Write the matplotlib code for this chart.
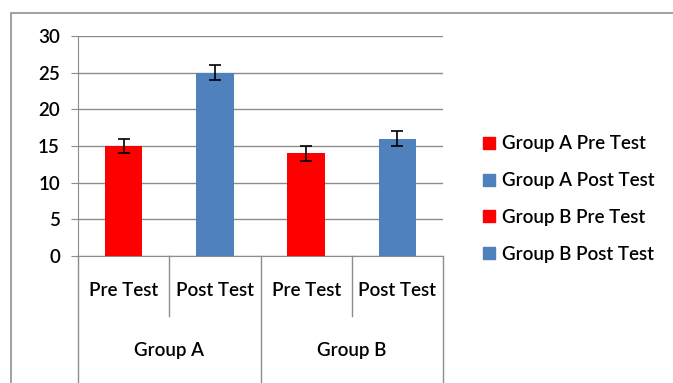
import matplotlib.pyplot as plt
from matplotlib.patches import Rectangle
from matplotlib.lines import Line2D

plt.rcParams['font.family'] = ['Lato', 'DejaVu Sans']
plt.rcParams['font.weight'] = 'semibold'

# data
groups = ["Group A", "Group B"]
tests = ["Pre Test", "Post Test", "Pre Test", "Post Test"]
series = ["Group A Pre Test", "Group A Post Test", "Group B Pre Test", "Group B Post Test"]
values = [15, 25, 14, 16]
errors = [1, 1, 1, 1]
colors = ["#FF0000", "#4F81BD", "#FF0000", "#4F81BD"]

grid_col = "#8C8C8C"
fs = 13.5

fig = plt.figure(figsize=(6.73, 3.83), dpi=100)
ax = fig.add_axes([78 / 673, 1 - 256 / 383, 365 / 673, 220 / 383])

x = list(range(len(values)))
for i in x:
    ax.bar(i, values[i], width=0.41, color=colors[i], label=series[i], zorder=3)
    ax.errorbar(i, values[i], yerr=errors[i], color="black", capsize=4,
                elinewidth=1.2, capthick=1.2, zorder=4)

ax.set_xlim(-0.5, 3.5)
ax.set_ylim(0, 30)
ax.set_yticks(range(0, 31, 5))
ax.yaxis.grid(True, color=grid_col, lw=1)
ax.set_axisbelow(True)
for s in ["top", "right"]:
    ax.spines[s].set_visible(False)
ax.spines["left"].set_color(grid_col)
ax.spines["bottom"].set_color(grid_col)
ax.tick_params(axis="y", colors=grid_col, length=5, labelsize=fs, pad=8)
for lbl in ax.get_yticklabels():
    lbl.set_color("black")
ax.set_xticks([])

# category axis: separators and two-level labels
for xv in [-0.5, 1.5, 3.5]:
    ax.axvline(xv, ymin=-0.6, ymax=0, color=grid_col, lw=1, clip_on=False)
for xv in [0.5, 2.5]:
    ax.axvline(xv, ymin=-0.273, ymax=0, color=grid_col, lw=1, clip_on=False)
trans = ax.get_xaxis_transform()
for i, t in enumerate(tests):
    ax.text(i, -0.155, t, transform=trans, ha="center", va="center", fontsize=fs)
for j, g in enumerate(groups):
    ax.text(2 * j + 0.5, -0.43, g, transform=trans, ha="center", va="center", fontsize=fs)

handles = [Line2D([], [], marker="s", ls="", color=c, markersize=8) for c in colors]
fig.legend(handles, series, loc="center left", bbox_to_anchor=(474 / 673, 1 - 199 / 383),
           frameon=False, fontsize=fs, labelspacing=1.05, handlelength=0.8,
           handletextpad=0.3, borderaxespad=0)

# outer chart border
fig.add_artist(Rectangle((11 / 673, -0.1), 1.2, 1 - 13 / 383 + 0.1,
                         transform=fig.transFigure, fill=False, ec="#909090", lw=1.2))

fig.savefig("out.png", dpi=100)
